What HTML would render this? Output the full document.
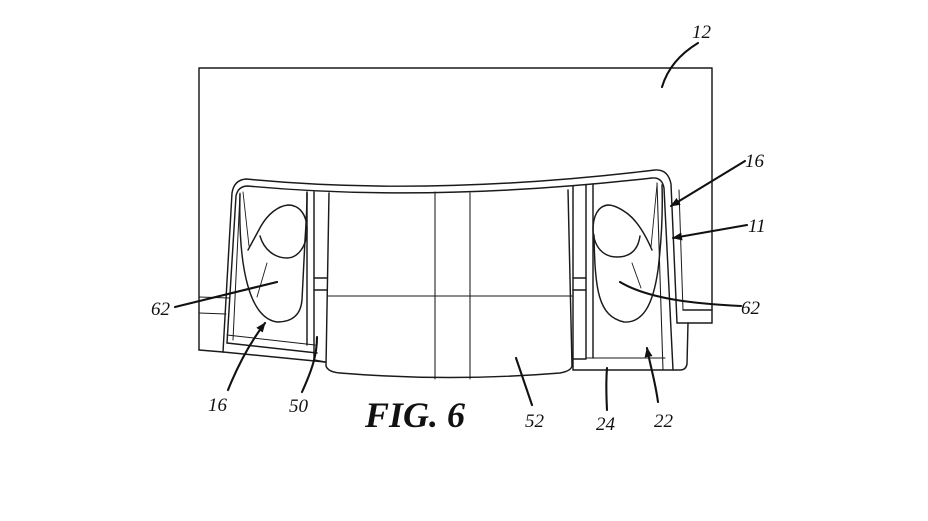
<!DOCTYPE html>
<html>
<head>
<meta charset="utf-8">
<style>
  html,body{margin:0;padding:0;background:#fff;}
  svg{display:block;}
  text{font-family:"Liberation Serif",serif;font-style:italic;fill:#111;}
</style>
</head>
<body>
<svg width="928" height="521" viewBox="0 0 928 521" xmlns="http://www.w3.org/2000/svg">
  <defs>
    <marker id="ah" viewBox="0 0 10 8" refX="9" refY="4" markerWidth="10" markerHeight="8" markerUnits="userSpaceOnUse" orient="auto">
      <path d="M0,0 L10,4 L0,8 Z" fill="#111"/>
    </marker>
  </defs>
  <rect width="928" height="521" fill="#fff"/>

  <g fill="none" stroke="#1a1a1a" stroke-width="1.45" stroke-linejoin="round" stroke-linecap="round">
    <!-- Panel 12 -->
    <path d="M199,350 L199,68 L712,68 L712,323"/>
    <path d="M199,350 L223,352"/>
    <path d="M199,297 L229,298 M199,313 L226,314" stroke-width="1"/>
    <!-- small box right -->
    <path d="M677,323 L712,323 M683,310 L712,310"/>

    <!-- Bezel outer -->
    <path d="M223,352 L232,193 Q234,180 246,179 Q430,197 655,170 Q668,169 671,184 L677,323"/>
    <path d="M688,323 L687,364 Q686,370 680,370 L573,370"/>
    <!-- Bezel inner -->
    <path d="M227,343 L236,196 Q238,186 248,186 Q430,203 652,178 Q662,177 664,188 L673,370"/>
    <path d="M683,310 L679,190" stroke-width="1"/>

    <!-- Left lamp housing -->
    <path d="M233,340 L240,193" stroke-width="1"/>
    <path d="M227,335 L315,345" stroke-width="1"/>
    <path d="M227,343 L317,353"/>
    <path d="M223,352 L325,362"/>
    <!-- Left lens -->
    <path d="M240,194 C238,270 250,318 277,322 C295,322 301,312 302,300 L305,240 Q307,210 307,193"/>
    <!-- Left bulb -->
    <path d="M248,250 L261,226 C268,214 278,206 288,205 C299,205 307,214 307,230 C307,246 298,258 287,258 C275,258 264,250 260,236"/>
    <path d="M243,192 L249,246" stroke-width="0.9"/>
    <path d="M267,263 L257,297" stroke-width="0.9"/>

    <!-- Left divider -->
    <path d="M307,192 L307,345"/>
    <path d="M314,192 L314,360 L325,362"/>
    <path d="M314,278 L327,278 M314,290 L327,290"/>

    <!-- Box 52 -->
    <path d="M329,193 L326,366 Q328,372 340,373 Q450,382 560,373 Q571,371 572,366 L568,190"/>
    <path d="M435,192 L435,379 M470,193 L470,379" stroke-width="1.05"/>
    <path d="M327,296 L572,296" stroke-width="1.05"/>

    <!-- Right divider -->
    <path d="M573,186 L573,370"/>
    <path d="M586,185 L586,359 L573,359"/>
    <path d="M573,278 L586,278 M573,290 L586,290"/>
    <path d="M593,184 L593,358"/>
    <path d="M586,358 L665,358" stroke-width="1.05"/>

    <!-- Right lamp housing lines -->
    <path d="M657,183 L663,370" stroke-width="1.05"/>
    <!-- Right lens -->
    <path d="M594,235 C595,290 598,316 624,322 C643,323 653,305 658,270 C661,245 663,215 662,185"/>
    <!-- Right bulb -->
    <path d="M652,250 C646,236 638,222 628,214 C620,208 613,205 608,205 C598,206 593,216 593,230 C594,248 604,257 617,257 C630,257 638,250 640,236"/>
    <path d="M657,185 L651,247" stroke-width="0.9"/>
    <path d="M632,263 L641,288" stroke-width="0.9"/>
  </g>

  <!-- Leader lines -->
  <g fill="none" stroke="#111" stroke-width="2.1" stroke-linecap="round">
    <path d="M698,43 Q670,60 662,87"/>
    <path d="M745,161 L671,206" marker-end="url(#ah)"/>
    <path d="M747,225 L673,238" marker-end="url(#ah)"/>
    <path d="M741,306 C700,304 650,300 620,282"/>
    <path d="M175,307 L277,282"/>
    <path d="M228,390 C240,360 252,340 265,323" marker-end="url(#ah)"/>
    <path d="M302,392 C312,370 317,355 317,337"/>
    <path d="M532,405 L516,358"/>
    <path d="M607,410 C606,390 606,380 607,368"/>
    <path d="M658,402 C655,380 650,365 647,348" marker-end="url(#ah)"/>
  </g>

  <!-- Labels -->
  <g font-size="19">
    <text x="692" y="38">12</text>
    <text x="745" y="167">16</text>
    <text x="748" y="232">11</text>
    <text x="741" y="314">62</text>
    <text x="151" y="315">62</text>
    <text x="208" y="411">16</text>
    <text x="289" y="412">50</text>
    <text x="525" y="427">52</text>
    <text x="596" y="430">24</text>
    <text x="654" y="427">22</text>
  </g>
  <text x="365" y="427" font-size="36" font-weight="bold">FIG. 6</text>
</svg>
</body>
</html>
